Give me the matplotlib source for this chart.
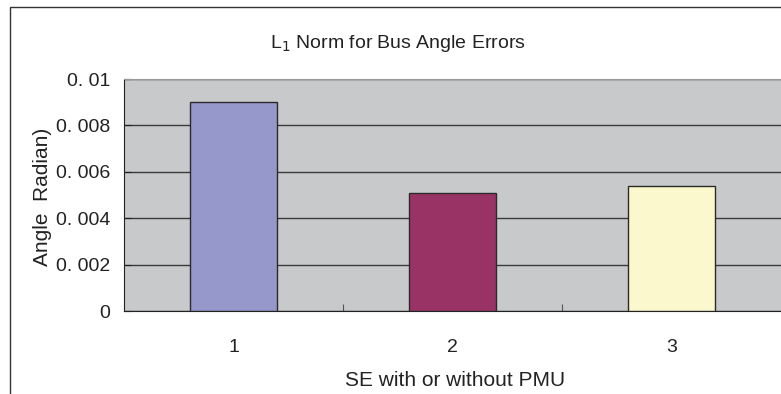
import matplotlib
matplotlib.use("Agg")
import matplotlib.pyplot as plt
from matplotlib.patches import Rectangle

categories = ["1", "2", "3"]
values = [0.0090, 0.0051, 0.0054]
bar_colors = ["#9697CB", "#993366", "#FBF8CE"]
yticks = [0, 0.002, 0.004, 0.006, 0.008, 0.01]
ytick_labels = ["0", "0. 002", "0. 004", "0. 006", "0. 008", "0. 01"]
title = "L$_{1}$ Norm for Bus Angle Errors"
xlabel = "SE with or without PMU"
ylabel = "Angle  Radian)"

plt.rcParams['font.family'] = ['Liberation Sans', 'DejaVu Sans']

W, H = 781, 394
fig = plt.figure(figsize=(W / 100, H / 100), dpi=100)

# outer chart frame (cropped at right and bottom)
fig.patches.append(Rectangle((10 / W, -0.1), 1.2, 1 - 7 / H + 0.1,
                             transform=fig.transFigure, fill=False,
                             edgecolor="#333333", linewidth=1.0))

ax = fig.add_axes([124 / W, (H - 311) / H, 1 - 124 / W, (311 - 79) / H])
ax.set_facecolor("#C8C9CB")
x = list(range(len(categories)))
ax.set_axisbelow(True)
ax.yaxis.grid(True, color="#3A3A3A", linewidth=1.0)
ax.bar(x, values, width=0.4, color=bar_colors, edgecolor="#2A2A2A", linewidth=1.0, zorder=3)

ax.set_xlim(-0.5, 2.5)
ax.set_ylim(0, 0.01)
ax.set_yticks(yticks)
ax.set_yticklabels(ytick_labels, fontsize=14, color="#222222")
ax.set_xticks([0.5, 1.5])
ax.set_xticklabels([])
ax.tick_params(axis="x", direction="in", length=5, color="#555555")
ax.tick_params(axis="y", direction="in", length=5, color="#222222", pad=10)
for xi, c in zip(x, categories):
    ax.text(xi, -0.00158, c, ha="center", va="center", fontsize=14, color="#222222")

ax.spines["right"].set_visible(False)
ax.spines["top"].set_color("#999999")
ax.spines["left"].set_color("#222222")
ax.spines["bottom"].set_color("#222222")

fig.text(398 / W, 1 - 43 / H, title, ha="center", va="center", fontsize=14, color="#222222")
fig.text(455 / W, 1 - 381 / H, xlabel, ha="center", va="center", fontsize=15, color="#222222")
fig.text(42 / W, 1 - 197 / H, ylabel, ha="center", va="center", rotation=90, fontsize=15, color="#222222")

fig.savefig("out.png", dpi=100)
